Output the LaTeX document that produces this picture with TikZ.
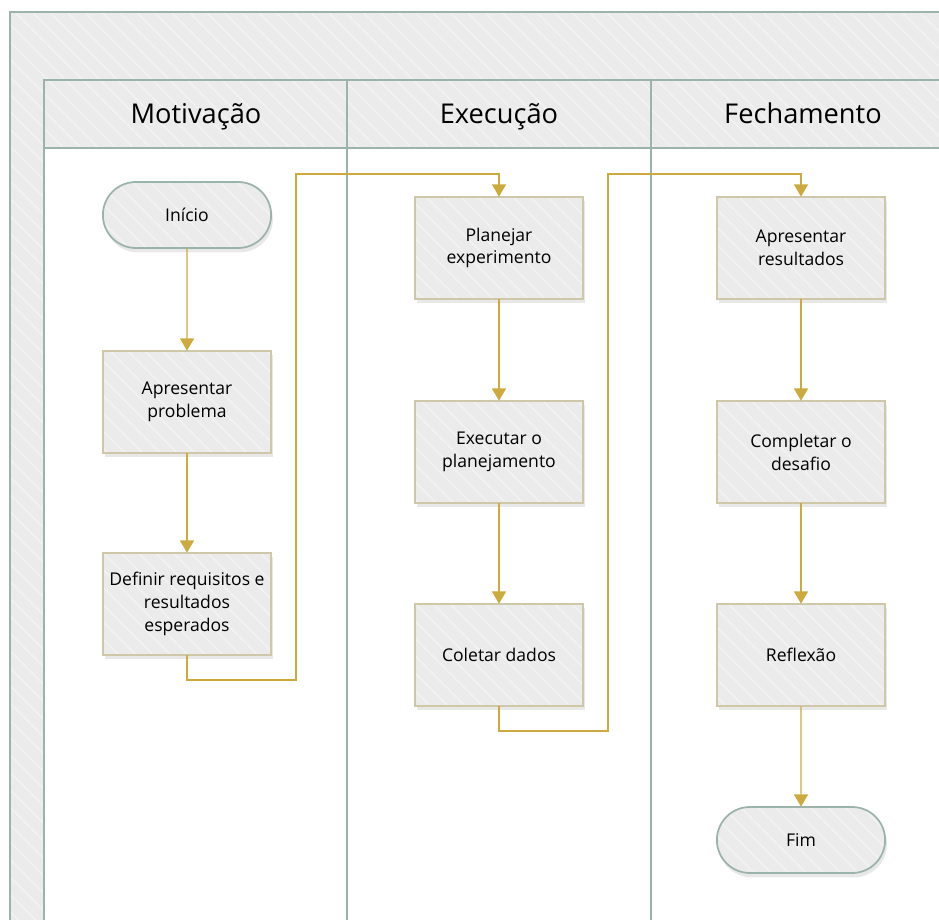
\documentclass[tikz,border=0pt]{standalone}
\usepackage{fontspec}
\setmainfont{Open Sans}
\usetikzlibrary{positioning, arrows.meta, shapes.misc, shadows, patterns.meta}

\definecolor{laneline}{HTML}{9CB3AB}
\definecolor{lanefill}{HTML}{EBEBEB}
\definecolor{stripe}{HTML}{F2F2F2}
\definecolor{boxline}{HTML}{CFC8A8}
\definecolor{flowgold}{HTML}{CDAA3D}

\begin{document}
\begin{tikzpicture}[
	x=0.02cm, y=-0.02cm,
	>={Triangle[width=8pt,length=7pt]},
	hatched/.style={fill=lanefill, postaction={pattern={Lines[angle=-45,distance=7pt,line width=0.9pt]}, pattern color=stripe}},
	lane/.style={hatched, postaction={draw=laneline, line width=1.2pt}},
	lanebody/.style={fill=white, draw=laneline, line width=1.2pt},
	header/.style={anchor=base, font=\fontsize{15.5}{18}\selectfont},
	soft/.style={drop shadow={shadow xshift=1pt, shadow yshift=-2.5pt, opacity=0.18}},
	stepbox/.style={rectangle, soft, hatched, postaction={draw=boxline, line width=1pt}, minimum width=3.36cm, minimum height=2.04cm, align=center, font=\fontsize{10}{13}\selectfont},
	terminal/.style={rounded rectangle, soft, hatched, postaction={draw=laneline, line width=1pt}, minimum width=3.6cm, minimum height=1.32cm, font=\fontsize{10}{13}\selectfont},
	flow/.style={->, draw=flowgold, line width=0.8pt}
	]
	
	\useasboundingbox (0,0) rectangle (939,919);
	\clip (0,0) rectangle (939,919);
	
	% --- POOL AND LANES ---
	\path[lane] (10,12) rectangle (960,940);
	\draw[lanebody] (44,148) rectangle (347,940);
	\draw[lanebody] (347,148) rectangle (651,940);
	\draw[lanebody] (651,148) rectangle (955,940);
	\path[lane] (44,80) rectangle (347,148);
	\path[lane] (347,80) rectangle (651,148);
	\path[lane] (651,80) rectangle (955,148);
	
	% Lane titles
	\node[header] (motivacao) at (196,123) {Motivação};
	\node[header] (execucao) at (499,123) {Execução};
	\node[header] (fechamento) at (803,123) {Fechamento};
	
	% --- STEPS ---
	\node[terminal] (inicio) at (187,215) {Início};
	\node[stepbox] (problema) at (187,402) {Apresentar\\problema};
	\node[stepbox] (requisitos) at (187,604) {Definir requisitos e\\resultados\\esperados};
	
	\node[stepbox] (planejar) at (499,248) {Planejar\\experimento};
	\node[stepbox] (executar) at (499,452) {Executar o\\planejamento};
	\node[stepbox] (coletar) at (499,655) {Coletar dados};
	
	\node[stepbox] (resultados) at (801,248) {Apresentar\\resultados};
	\node[stepbox] (desafio) at (801,452) {Completar o\\desafio};
	\node[stepbox] (reflexao) at (801,655) {Reflexão};
	\node[terminal] (fim) at (801,840) {Fim};
	
	% Bends between lanes
	\coordinate (bendA) at (296,680);
	\coordinate (bendB) at (296,174);
	\coordinate (bendC) at (608,731);
	\coordinate (bendD) at (608,174);
	
	% --- FLOW ---
	\draw[flow] (inicio) -- (problema);
	\draw[flow] (problema) -- (requisitos);
	\draw[flow] (requisitos.south) |- (bendA) -- (bendB) -| (planejar.north);
	\draw[flow] (planejar) -- (executar);
	\draw[flow] (executar) -- (coletar);
	\draw[flow] (coletar.south) |- (bendC) -- (bendD) -| (resultados.north);
	\draw[flow] (resultados) -- (desafio);
	\draw[flow] (desafio) -- (reflexao);
	\draw[flow] (reflexao) -- (fim);
	
\end{tikzpicture}
\end{document}
